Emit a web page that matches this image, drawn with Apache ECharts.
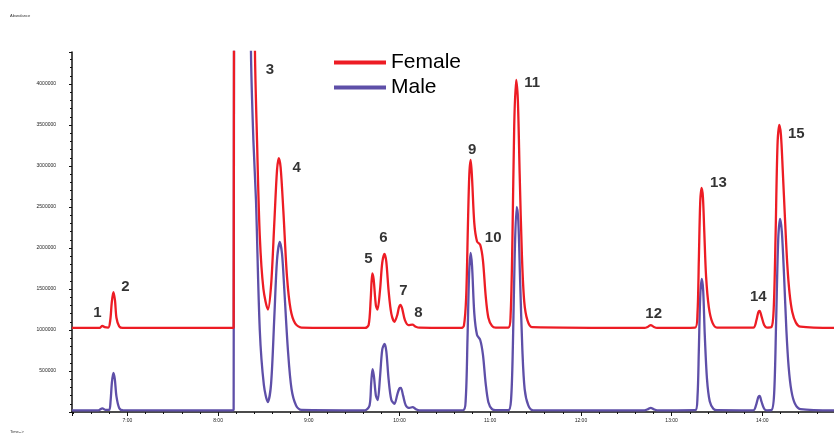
<!DOCTYPE html>
<html>
<head>
<meta charset="utf-8">
<script src="https://cdn.jsdelivr.net/npm/echarts@6/dist/echarts.min.js"></script>
<style>
  html, body { margin: 0; padding: 0; background: #fff; }
  #chart { width: 834px; height: 436px; }
</style>
</head>
<body>
<div id="chart"></div>
<script>
// retention time (min) / abundance
var femaleTrace = [
  [6.39, 1025000], [6.68, 1025000], [6.70, 1028000], [6.725, 1050000], [6.75, 1035000],
  [6.79, 1030000], [6.812, 1120000], [6.828, 1330000], [6.846, 1463000], [6.864, 1360000],
  [6.88, 1150000], [6.91, 1045000], [6.95, 1025000],
  [8.16, 1025000], [8.172, 1030000], [8.18, 8000000], [8.385, 8000000], [8.407, 4390000],
  [8.43, 3300000], [8.46, 2150000], [8.50, 1500000], [8.55, 1250000], [8.585, 1550000],
  [8.62, 2300000], [8.65, 2950000], [8.67, 3097000], [8.69, 2980000], [8.72, 2450000],
  [8.76, 1650000], [8.80, 1250000], [8.85, 1080000], [8.92, 1030000],
  [9.62, 1025000], [9.66, 1060000], [9.683, 1380000], [9.70, 1690000], [9.715, 1620000],
  [9.74, 1300000], [9.758, 1250000], [9.785, 1480000], [9.81, 1820000], [9.835, 1927000],
  [9.855, 1830000], [9.88, 1480000], [9.91, 1200000], [9.945, 1100000], [9.975, 1180000],
  [9.995, 1280000], [10.011, 1305000], [10.03, 1260000], [10.06, 1120000], [10.10, 1060000],
  [10.143, 1065000], [10.18, 1040000], [10.22, 1028000],
  [10.68, 1025000], [10.71, 1050000], [10.735, 1400000], [10.755, 2300000], [10.77, 2900000],
  [10.785, 3073000], [10.80, 2850000], [10.825, 2300000], [10.855, 2080000], [10.89, 2037000],
  [10.92, 1850000], [10.95, 1420000], [10.98, 1150000], [11.02, 1050000], [11.06, 1028000],
  [11.20, 1030000], [11.225, 1180000], [11.245, 2100000], [11.265, 3500000], [11.286, 4049000],
  [11.305, 3800000], [11.325, 2900000], [11.35, 1900000], [11.375, 1350000], [11.41, 1120000],
  [11.46, 1035000],
  [12.70, 1025000], [12.74, 1040000], [12.77, 1060000], [12.80, 1040000], [12.84, 1025000],
  [13.26, 1030000], [13.285, 1200000], [13.30, 1850000], [13.315, 2550000], [13.33, 2732000],
  [13.345, 2620000], [13.36, 2200000], [13.38, 1650000], [13.41, 1280000], [13.45, 1090000],
  [13.50, 1030000],
  [13.90, 1030000], [13.935, 1120000], [13.955, 1215000], [13.97, 1232000], [13.99, 1170000],
  [14.02, 1060000], [14.05, 1030000],
  [14.10, 1035000], [14.125, 1250000], [14.145, 2100000], [14.167, 3250000], [14.187, 3500000],
  [14.205, 3380000], [14.225, 2950000], [14.25, 2350000], [14.275, 1800000], [14.30, 1450000],
  [14.33, 1220000], [14.37, 1090000], [14.42, 1040000], [14.79, 1025000]
];

var maleTrace = [
  [6.39, 20000], [6.68, 20000], [6.725, 45000], [6.76, 25000], [6.80, 25000],
  [6.815, 130000], [6.83, 360000], [6.846, 476000], [6.862, 400000], [6.88, 190000],
  [6.91, 50000], [6.95, 22000],
  [8.16, 20000], [8.172, 30000], [8.18, 8000000], [8.345, 8000000], [8.363, 4390000],
  [8.39, 3300000], [8.418, 2585000], [8.46, 1000000], [8.505, 330000], [8.549, 122000],
  [8.585, 350000], [8.62, 1150000], [8.65, 1850000], [8.68, 2073000], [8.705, 1930000],
  [8.73, 1500000], [8.77, 760000], [8.81, 280000], [8.86, 80000], [8.92, 25000],
  [9.62, 20000], [9.67, 80000], [9.688, 350000], [9.703, 524000], [9.718, 440000],
  [9.74, 200000], [9.76, 146000], [9.785, 420000], [9.81, 760000], [9.835, 829000],
  [9.855, 740000], [9.88, 400000], [9.91, 150000], [9.945, 100000], [9.975, 210000],
  [9.998, 285000], [10.015, 293000], [10.04, 200000], [10.07, 80000], [10.11, 50000],
  [10.145, 60000], [10.18, 35000], [10.22, 20000],
  [10.70, 22000], [10.73, 150000], [10.75, 900000], [10.768, 1700000], [10.785, 1939000],
  [10.80, 1780000], [10.825, 1200000], [10.855, 940000], [10.89, 878000], [10.92, 700000],
  [10.95, 350000], [10.98, 120000], [11.02, 35000], [11.06, 22000],
  [11.20, 22000], [11.23, 150000], [11.25, 800000], [11.27, 1900000], [11.292, 2500000],
  [11.31, 2330000], [11.33, 1600000], [11.355, 750000], [11.38, 280000], [11.42, 80000],
  [11.47, 22000],
  [12.70, 20000], [12.74, 35000], [12.77, 50000], [12.80, 35000], [12.84, 20000],
  [13.26, 22000], [13.285, 180000], [13.30, 750000], [13.315, 1400000], [13.332, 1622000],
  [13.348, 1480000], [13.365, 950000], [13.39, 400000], [13.42, 130000], [13.46, 40000],
  [13.50, 22000],
  [13.90, 20000], [13.935, 100000], [13.955, 180000], [13.97, 195000], [13.99, 130000],
  [14.02, 40000], [14.05, 20000],
  [14.10, 22000], [14.13, 220000], [14.152, 1100000], [14.175, 2100000], [14.195, 2354000],
  [14.215, 2200000], [14.24, 1650000], [14.265, 1000000], [14.29, 550000], [14.32, 260000],
  [14.36, 100000], [14.42, 35000], [14.79, 20000]
];

// peak numbers and where they sit
var peakNames  = ['1', '2', '3', '4', '5', '6', '7', '8', '9', '10', '11', '12', '13', '14', '15'];
var peakTimes  = [6.670, 6.978, 8.571, 8.868, 9.659, 9.824, 10.044, 10.209, 10.802, 11.033, 11.462, 12.802, 13.516, 13.956, 14.374];
var peakLevels = [1207000, 1524000, 4171000, 2976000, 1866000, 2122000, 1476000, 1207000, 3195000, 2122000, 4012000, 1195000, 2793000, 1402000, 3390000];

var seriesNames = ['Female', 'Male'];

var timeMin = 6.39, timeMax = 14.79;
var abundMax = 4390000, abundStep = 500000;

var myChart = echarts.init(document.getElementById('chart'));

var peakData = peakNames.map(function (n, i) {
  return { value: [peakTimes[i], peakLevels[i]], name: n };
});

myChart.setOption({
  animation: false,
  grid: { left: 72, right: 0, top: 52, bottom: 24 },
  legend: {
    data: seriesNames,
    orient: 'vertical',
    left: 329,
    top: 47,
    icon: 'rect',
    itemWidth: 52,
    itemHeight: 4,
    itemGap: 4,
    textStyle: { fontSize: 21, fontFamily: 'Liberation Sans', color: '#000' }
  },
  graphic: [
    { type: 'text', left: 10, top: 14, style: { text: 'Abundance', fontSize: 4, fill: '#333' } },
    { type: 'text', left: 10, top: 430, style: { text: 'Time-->', fontSize: 4, fill: '#333' } }
  ],
  xAxis: {
    type: 'value',
    min: timeMin,
    max: timeMax,
    splitNumber: 8,
    axisLine: { lineStyle: { color: '#111', width: 1.5 } },
    axisTick: { length: 4, lineStyle: { color: '#111' } },
    minorTick: { show: true, splitNumber: 5, length: 2, lineStyle: { color: '#111' } },
    splitLine: { show: false },
    axisLabel: {
      fontSize: 5, color: '#222', margin: 6,
      showMinLabel: false, showMaxLabel: false,
      formatter: function (v) { return Math.abs(v - Math.round(v)) < 1e-6 ? Math.round(v) + ':00' : ''; }
    }
  },
  yAxis: {
    type: 'value',
    min: 0,
    max: abundMax,
    interval: abundStep,
    axisLine: { show: true, lineStyle: { color: '#111', width: 1.5 } },
    axisTick: { show: true, length: 3, lineStyle: { color: '#111' } },
    minorTick: { show: true, splitNumber: 5, length: 2, lineStyle: { color: '#111' } },
    splitLine: { show: false },
    axisLabel: {
      fontSize: 5, color: '#222', margin: 16,
      showMinLabel: false, showMaxLabel: false,
      formatter: function (v) { return v % abundStep === 0 ? String(v) : ''; }
    }
  },
  series: [
    {
      name: 'Male',
      type: 'line',
      data: maleTrace,
      smooth: 0.3,
      showSymbol: false,
      lineStyle: { color: '#5e4fa8', width: 2.3 },
      itemStyle: { color: '#5e4fa8' }
    },
    {
      name: 'Female',
      type: 'line',
      data: femaleTrace,
      smooth: 0.3,
      showSymbol: false,
      lineStyle: { color: '#ed1c24', width: 2.3 },
      itemStyle: { color: '#ed1c24' }
    },
    {
      name: 'peaks',
      type: 'scatter',
      data: peakData,
      symbolSize: 0,
      silent: true,
      label: {
        show: true,
        position: 'inside',
        formatter: '{b}',
        fontSize: 15,
        fontWeight: 'bold',
        fontFamily: 'Liberation Sans',
        color: '#000'
      }
    }
  ]
});

window.addEventListener('resize', function () {
  myChart.resize();
});
</script>
</body>
</html>
